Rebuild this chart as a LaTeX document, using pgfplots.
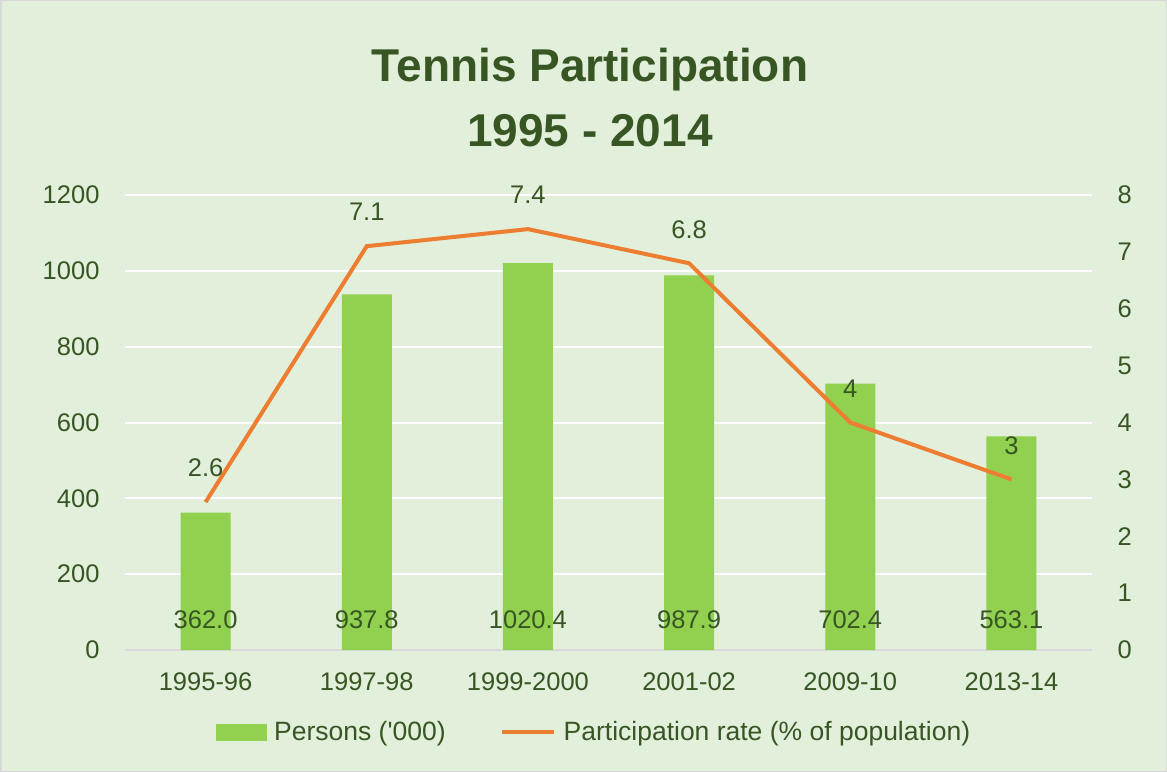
\documentclass[border=0pt]{standalone}
\usepackage{fontspec}
\setmainfont{Liberation Sans}
\usepackage{pgfplots}
\pgfplotsset{compat=1.18}
\definecolor{bg}{HTML}{E2EFDA}
\definecolor{bargreen}{HTML}{92D050}
\definecolor{lineor}{HTML}{ED7D31}
\definecolor{tg}{HTML}{375623}
\definecolor{axgrey}{HTML}{D9D9D9}
\begin{document}
\begin{tikzpicture}[x=1pt,y=1pt]
\fill[bg] (0,0) rectangle (1167,772);
\draw[axgrey, line width=1.5pt] (0.75,0.75) rectangle (1166.25,771.25);
\node[font=\fontsize{46}{65}\selectfont\bfseries, text=tg, align=center] at (590,674.5) {Tennis Participation\\1995 - 2014};
\begin{axis}[
  at={(125pt,122pt)}, anchor=south west,
  width=967pt, height=455pt, scale only axis,
  clip=false,
  xmin=-0.5, xmax=5.5, ymin=0, ymax=1200,
  xtick={0,...,5},
  xticklabels={1995-96,1997-98,1999-2000,2001-02,2009-10,2013-14},
  ytick={0,200,...,1200},
  axis x line*=bottom, axis y line*=left,
  x axis line style={draw=axgrey, line width=1.5pt, -},
  y axis line style={draw=none},
  major tick length=0pt,
  ymajorgrids, grid style={white, line width=2pt},
  /pgf/number format/assume math mode=true,
  /pgf/number format/set thousands separator={},
  yticklabel style={font=\fontsize{25.5}{30}\selectfont, text=tg, xshift=-22pt},
  xticklabel style={font=\fontsize{25.5}{30}\selectfont, text=tg, yshift=-19pt},
]
\addplot[ybar, bar width=50pt, fill=bargreen, draw=none] coordinates {
  (0,362.0) (1,937.8) (2,1020.4) (3,987.9) (4,702.4) (5,563.1)};
\addplot[draw=none, mark=none, nodes near coords, point meta=explicit symbolic,
  nodes near coords align={center},
  every node near coord/.append style={font=\fontsize{25.5}{30}\selectfont, text=tg}]
  coordinates {(0,79)[362.0] (1,79)[937.8] (2,79)[1020.4] (3,79)[987.9] (4,79)[702.4] (5,79)[563.1]};
\end{axis}
\begin{axis}[
  at={(125pt,122pt)}, anchor=south west,
  width=967pt, height=455pt, scale only axis,
  clip=false,
  xmin=-0.5, xmax=5.5, ymin=0, ymax=8,
  ytick={0,...,8},
  axis y line*=right, axis x line=none,
  y axis line style={draw=none},
  major tick length=0pt,
  /pgf/number format/assume math mode=true,
  yticklabel style={font=\fontsize{25.5}{30}\selectfont, text=tg, xshift=22pt},
  legend style={at={(0.485,-0.18)}, anchor=center, draw=none, fill=none,
    font=\fontsize{26.5}{30}\selectfont, text=tg,
    /tikz/every odd column/.append style={column sep=6pt},
    /tikz/every even column/.append style={column sep=52pt}},
  legend columns=2,
]
\addlegendimage{legend image code/.code={\fill[bargreen] (0pt,-8pt) rectangle (50pt,8pt);}}
\addlegendentry{Persons (\textquotesingle 000)}
\addplot[lineor, line width=4pt, mark=none,
  nodes near coords, nodes near coords align={center},
  every node near coord/.append style={font=\fontsize{25.5}{30}\selectfont, text=tg, yshift=34pt},
  legend image code/.code={\draw[lineor, line width=4pt] (0pt,0pt) -- (52pt,0pt);}]
  coordinates {(0,2.6) (1,7.1) (2,7.4) (3,6.8) (4,4) (5,3)};
\addlegendentry{Participation rate (\% of population)}
\end{axis}
\end{tikzpicture}
\end{document}
